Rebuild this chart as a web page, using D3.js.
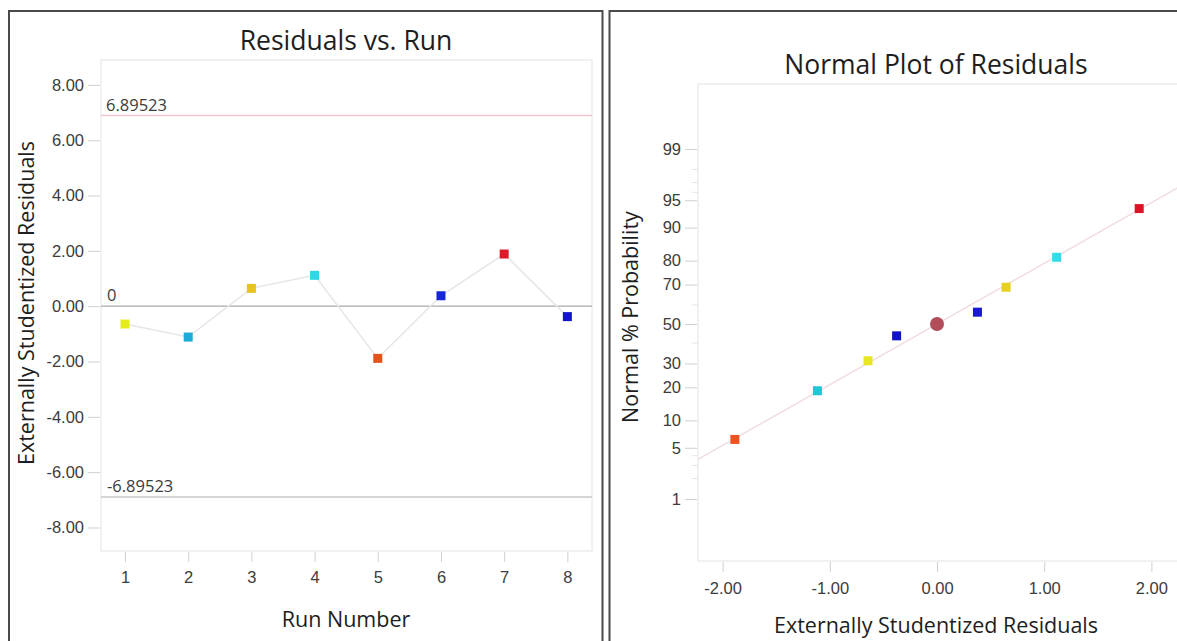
<!DOCTYPE html>
<html>
<head>
<meta charset="utf-8">
<script src="https://cdn.jsdelivr.net/npm/d3@7"></script>
<style>
  html, body { margin: 0; padding: 0; background: #fff; }
  svg { display: block; font-family: "Open Sans", "Noto Sans", sans-serif; }
</style>
</head>
<body>
<svg id="chart" width="1177" height="641"></svg>
<script>
// Run order and externally studentized residuals
const runs = [1, 2, 3, 4, 5, 6, 7, 8];
const residuals = [-0.644, -1.116, 0.644, 1.116, -1.886, 0.377, 1.886, -0.377];
const runColors = ["#e4ec1c", "#1eaad8", "#e8c21e", "#2ed8ea", "#e2541a", "#1426d8", "#de1a2a", "#1414cc"];

// Control limits
const upperLimit = 6.89523;
const lowerLimit = -6.89523;

// Axis ticks
const runYTicks = [-8, -6, -4, -2, 0, 2, 4, 6, 8];
const probTicks = [1, 5, 10, 20, 30, 50, 70, 80, 90, 95, 99];
const probMinorTicks = [2, 3, 4, 40, 60, 96, 97, 98];
const normXTicks = [-2, -1, 0, 1, 2];

// Normal plot: sorted residuals and their plotting percentiles
const sortedResiduals = [-1.886, -1.116, -0.644, -0.377, 0.377, 0.644, 1.116, 1.886];
const normalPct = [6.25, 18.75, 31.25, 43.75, 56.25, 68.75, 81.25, 93.75];
const normalColors = ["#ee5220", "#22c4d6", "#e6e622", "#1212c6", "#1a1ac8", "#e6d020", "#34dcea", "#de1224"];
// Centre marker and reference line spread
const centerPoint = { x: 0, pct: 50 };
const refLineSd = 1.24;

// Inverse standard normal CDF (Acklam's rational approximation)
function probit(p) {
  const a = [-3.969683028665376e+01, 2.209460984245205e+02, -2.759285104469687e+02, 1.383577518672690e+02, -3.066479806614716e+01, 2.506628277459239e+00];
  const b = [-5.447609879822406e+01, 1.615858368580409e+02, -1.556989798598866e+02, 6.680131188771972e+01, -1.328068155288572e+01];
  const c = [-7.784894002430293e-03, -3.223964580411365e-01, -2.400758277161838e+00, -2.549732539343734e+00, 4.374664141464968e+00, 2.938163982698783e+00];
  const d = [7.784695709041462e-03, 3.224671290700398e-01, 2.445134137142996e+00, 3.754408661907416e+00];
  const pl = 0.02425;
  let q, r;
  if (p < pl) {
    q = Math.sqrt(-2 * Math.log(p));
    return (((((c[0]*q+c[1])*q+c[2])*q+c[3])*q+c[4])*q+c[5]) / ((((d[0]*q+d[1])*q+d[2])*q+d[3])*q+1);
  } else if (p <= 1 - pl) {
    q = p - 0.5; r = q*q;
    return (((((a[0]*r+a[1])*r+a[2])*r+a[3])*r+a[4])*r+a[5])*q / (((((b[0]*r+b[1])*r+b[2])*r+b[3])*r+b[4])*r+1);
  } else {
    q = Math.sqrt(-2 * Math.log(1 - p));
    return -(((((c[0]*q+c[1])*q+c[2])*q+c[3])*q+c[4])*q+c[5]) / ((((d[0]*q+d[1])*q+d[2])*q+d[3])*q+1);
  }
}

// number formatting with a plain hyphen for negatives
const locale = d3.formatLocale({ decimal: ".", thousands: ",", grouping: [3], currency: ["", ""], minus: "-" });
const fmt2 = locale.format(".2f");
const fmt5 = locale.format(".5f");

const svg = d3.select("#chart");
const gridCol = "#e4e4e4";
const tickCol = "#d0d0d0";
const labelCol = "#3c3c3c";
const titleCol = "#1e1e1e";
const tickFont = "16.5px";
const axisTitleFont = "21.5px";
const titleFont = "26.5px";

// Panel frames
svg.append("rect").attr("x", 9).attr("y", 11).attr("width", 593.5).attr("height", 700)
  .attr("fill", "none").attr("stroke", "#4a4a4a").attr("stroke-width", 2);
svg.append("rect").attr("x", 609.5).attr("y", 11).attr("width", 700).attr("height", 700)
  .attr("fill", "none").attr("stroke", "#4a4a4a").attr("stroke-width", 2);

function styleAxis(g) {
  g.select(".domain").remove();
  g.selectAll(".tick line").attr("stroke", tickCol);
  g.selectAll(".tick text").attr("fill", labelCol).style("font-size", tickFont);
}

// ---------- Residuals vs. Run ----------
const L = { x0: 101, x1: 592, y0: 60, y1: 551 };
const xRun = d3.scaleLinear().domain([0.62, 8.39]).range([L.x0, L.x1]);
const yRes = d3.scaleLinear().domain([-8.85, 8.9]).range([L.y1, L.y0]);

const left = svg.append("g");
left.append("rect").attr("x", L.x0).attr("y", L.y0).attr("width", L.x1 - L.x0).attr("height", L.y1 - L.y0)
  .attr("fill", "#fff").attr("stroke", gridCol);

left.append("g").attr("transform", `translate(${L.x0 - 1},0)`)
  .call(d3.axisLeft(yRes).tickValues(runYTicks).tickFormat(fmt2).tickSize(12).tickPadding(4))
  .call(styleAxis);
left.append("g").attr("transform", `translate(0,${L.y1 + 1})`)
  .call(d3.axisBottom(xRun).tickValues(runs).tickFormat(d3.format("d")).tickSize(10).tickPadding(9))
  .call(styleAxis);

// limit and zero lines
left.append("line").attr("x1", L.x0).attr("x2", L.x1).attr("y1", yRes(upperLimit)).attr("y2", yRes(upperLimit))
  .attr("stroke", "#f2c6cf").attr("stroke-width", 1.5);
left.append("line").attr("x1", L.x0).attr("x2", L.x1).attr("y1", yRes(lowerLimit)).attr("y2", yRes(lowerLimit))
  .attr("stroke", "#c8c8c8").attr("stroke-width", 1.5);
left.append("line").attr("x1", L.x0).attr("x2", L.x1).attr("y1", yRes(0)).attr("y2", yRes(0))
  .attr("stroke", "#a9a9a9").attr("stroke-width", 1.2);

left.append("text").attr("x", L.x0 + 5).attr("y", yRes(upperLimit) - 4).text(fmt5(upperLimit))
  .attr("fill", labelCol).style("font-size", tickFont);
left.append("text").attr("x", L.x0 + 6).attr("y", yRes(lowerLimit) - 5).text(fmt5(lowerLimit))
  .attr("fill", labelCol).style("font-size", tickFont);
left.append("text").attr("x", L.x0 + 6).attr("y", yRes(0) - 5).text("0")
  .attr("fill", labelCol).style("font-size", tickFont);

// connecting line and points
const runData = runs.map((r, i) => ({ run: r, res: residuals[i], color: runColors[i] }));
left.append("path").datum(runData)
  .attr("d", d3.line().x(d => xRun(d.run)).y(d => yRes(d.res)))
  .attr("fill", "none").attr("stroke", "#e6e6e6").attr("stroke-width", 1.5);
const sq = 9;
left.selectAll("rect.pt").data(runData).join("rect").attr("class", "pt")
  .attr("x", d => xRun(d.run) - sq / 2).attr("y", d => yRes(d.res) - sq / 2)
  .attr("width", sq).attr("height", sq).attr("fill", d => d.color);

left.append("text").attr("x", 346).attr("y", 50).attr("text-anchor", "middle")
  .text("Residuals vs. Run").attr("fill", titleCol).style("font-size", titleFont);
left.append("text").attr("x", 346).attr("y", 627).attr("text-anchor", "middle")
  .text("Run Number").attr("fill", titleCol).style("font-size", axisTitleFont);
left.append("text").attr("transform", "translate(34,303) rotate(-90)").attr("text-anchor", "middle")
  .text("Externally Studentized Residuals").attr("fill", titleCol).style("font-size", axisTitleFont);

// ---------- Normal Plot of Residuals ----------
const R = { x0: 698, x1: 1190, y0: 84, y1: 561 };
const xNorm = d3.scaleLinear().domain([-2.23, 2.36]).range([R.x0, R.x1]);
const zScale = d3.scaleLinear().domain([-3.15, 3.19]).range([R.y1, R.y0]);
const yProb = p => zScale(probit(p / 100));

const right = svg.append("g");
right.append("rect").attr("x", R.x0).attr("y", R.y0).attr("width", R.x1 - R.x0).attr("height", R.y1 - R.y0)
  .attr("fill", "#fff").attr("stroke", gridCol);

// probability axis built on the z scale
right.append("g").attr("transform", `translate(${R.x0 - 1},0)`)
  .call(d3.axisLeft(zScale).tickValues(probTicks.map(p => probit(p / 100)))
    .tickFormat((d, i) => probTicks[i]).tickSize(12).tickPadding(4))
  .call(styleAxis);
right.append("g").selectAll("line").data(probMinorTicks).join("line")
  .attr("x1", R.x0 - 6).attr("x2", R.x0).attr("y1", d => yProb(d)).attr("y2", d => yProb(d))
  .attr("stroke", "#e6e6e6");

right.append("g").attr("transform", `translate(0,${R.y1 + 1})`)
  .call(d3.axisBottom(xNorm).tickValues(normXTicks).tickFormat(fmt2).tickSize(10).tickPadding(10))
  .call(styleAxis);

// reference line
const clip = right.append("clipPath").attr("id", "rclip");
clip.append("rect").attr("x", R.x0).attr("y", R.y0).attr("width", R.x1 - R.x0).attr("height", R.y1 - R.y0);
const xd = xNorm.domain();
right.append("line").attr("clip-path", "url(#rclip)")
  .attr("x1", xNorm(xd[0])).attr("y1", zScale(xd[0] / refLineSd))
  .attr("x2", xNorm(xd[1])).attr("y2", zScale(xd[1] / refLineSd))
  .attr("stroke", "#f0dde0").attr("stroke-width", 1.5);

const normData = sortedResiduals.map((r, i) => ({ x: r, p: normalPct[i], color: normalColors[i] }));
right.selectAll("rect.pt").data(normData).join("rect").attr("class", "pt")
  .attr("x", d => xNorm(d.x) - sq / 2).attr("y", d => yProb(d.p) - sq / 2)
  .attr("width", sq).attr("height", sq).attr("fill", d => d.color);
right.append("circle").attr("cx", xNorm(centerPoint.x)).attr("cy", yProb(centerPoint.pct)).attr("r", 7)
  .attr("fill", "#b24e5c");

right.append("text").attr("x", 936).attr("y", 74).attr("text-anchor", "middle")
  .text("Normal Plot of Residuals").attr("fill", titleCol).style("font-size", titleFont);
right.append("text").attr("x", 936).attr("y", 633).attr("text-anchor", "middle")
  .text("Externally Studentized Residuals").attr("fill", titleCol).style("font-size", axisTitleFont);
right.append("text").attr("transform", "translate(638,317) rotate(-90)").attr("text-anchor", "middle")
  .text("Normal % Probability").attr("fill", titleCol).style("font-size", axisTitleFont);
</script>
</body>
</html>
